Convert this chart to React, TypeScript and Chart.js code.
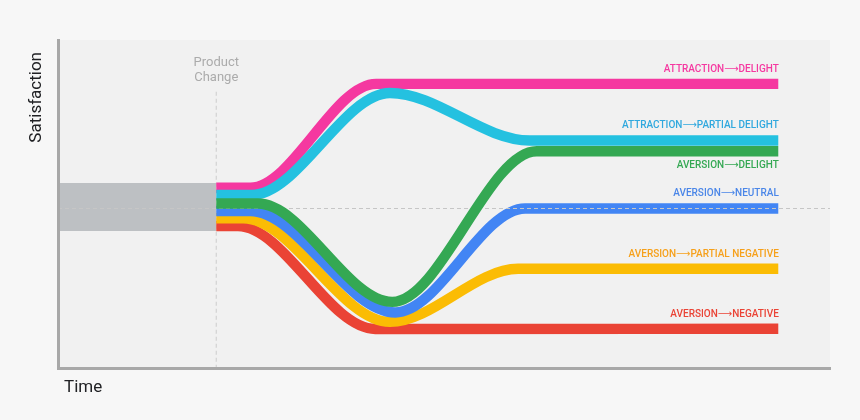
import React, { useEffect, useRef } from "react";
import { Chart, registerables } from "chart.js";

Chart.register(...registerables);

// ---- data (time 0–100, satisfaction; 0 = neutral) ----
const seriesNames = [
  "ATTRACTION⟶DELIGHT",
  "ATTRACTION⟶PARTIAL DELIGHT",
  "AVERSION⟶DELIGHT",
  "AVERSION⟶NEUTRAL",
  "AVERSION⟶PARTIAL NEGATIVE",
  "AVERSION⟶NEGATIVE",
];

const attractionDelightTime = [20.5, 24.9, 41.2, 93.3];
const attractionDelightSat = [13.0, 13.0, 77.9, 77.9];

const attractionPartialTime = [20.5, 25.1, 43.0, 61.1, 93.3];
const attractionPartialSat = [8.4, 8.4, 72.2, 42.5, 42.5];

const aversionDelightTime = [20.5, 25.9, 43.3, 62.0, 93.3];
const aversionDelightSat = [3.1, 3.1, -58.4, 35.8, 35.8];

const aversionNeutralTime = [20.5, 24.9, 43.7, 60.5, 93.3];
const aversionNeutralSat = [-1.6, -1.6, -65.0, 0, 0];

const aversionPartialNegTime = [20.5, 24.0, 43.0, 59.6, 93.3];
const aversionPartialNegSat = [-6.1, -6.1, -70.9, -37.7, -37.7];

const aversionNegativeTime = [20.5, 23.3, 41.1, 93.3];
const aversionNegativeSat = [-11.0, -11.0, -75.3, -75.2];

const productChangeTime = 20.5;
const productMarkerSat = [73, -99.7];
const neutralLevel = 0;
const baselineTime = [0, 20.5];
const baselineUpperSat = [15.9, 15.9];
const baselineLowerSat = [-14.1, -14.1];
const timeRange = [0, 100];
const satisfactionRange = [-99.7, 105.3];

const FONT = "Roboto, 'DejaVu Sans', 'Noto Sans', sans-serif";

const pts = (xs: number[], ys: number[]) => xs.map((x, i) => ({ x, y: ys[i] }));

function curve(name: string, xs: number[], ys: number[], color: string, labelColor: string, labelBelow = false) {
  return {
    label: name,
    data: pts(xs, ys),
    borderColor: color,
    backgroundColor: color,
    borderWidth: 10.4,
    borderCapStyle: "butt",
    borderJoinStyle: "round",
    cubicInterpolationMode: "monotone",
    pointRadius: 0,
    fill: false,
    endLabel: name,
    labelColor,
    labelBelow,
  };
}

const annotate = {
  id: "annotate",
  beforeDraw(chart: any) {
    const { ctx, chartArea: a } = chart;
    ctx.save();
    ctx.fillStyle = "#f1f1f1";
    ctx.fillRect(a.left, a.top, a.right - a.left, a.bottom - a.top);
    ctx.restore();
  },
  afterDraw(chart: any) {
    const { ctx, chartArea: a, scales } = chart;
    ctx.save();
    ctx.textBaseline = "middle";
    // end labels
    chart.data.datasets.forEach((ds: any, i: number) => {
      if (!ds.endLabel) return;
      const meta = chart.getDatasetMeta(i);
      const p = meta.data[meta.data.length - 1];
      ctx.font = `500 10px ${FONT}`;
      ctx.fillStyle = ds.labelColor;
      ctx.textAlign = "right";
      ctx.fillText(ds.endLabel, p.x + 0.5, p.y + (ds.labelBelow ? 14.5 : -14.5));
    });
    // product change label
    const px = scales.x.getPixelForValue(productChangeTime);
    const py = scales.y.getPixelForValue(productMarkerSat[0]);
    ctx.font = `400 13px ${FONT}`;
    ctx.fillStyle = "#ababab";
    ctx.textAlign = "center";
    ctx.fillText("Product", px, py - 29.3);
    ctx.fillText("Change", px, py - 13.7);
    // axis titles
    ctx.fillStyle = "#202124";
    ctx.font = `400 17px ${FONT}`;
    ctx.textAlign = "left";
    ctx.fillText("Time", a.left + 6, a.bottom + 20);
    ctx.translate(a.left - 21, a.top + 12);
    ctx.rotate(-Math.PI / 2);
    ctx.textAlign = "right";
    ctx.fillText("Satisfaction", 0, 0);
    ctx.restore();
  },
};

export default function App() {
  const ref = useRef<HTMLCanvasElement>(null);
  useEffect(() => {
    const datasets: any[] = [
      curve(seriesNames[2], aversionDelightTime, aversionDelightSat, "#34a853", "#34a853", true),
      {
        label: "neutral",
        data: pts([timeRange[0], timeRange[1]], [neutralLevel, neutralLevel]),
        borderColor: "#c6c6c6",
        borderWidth: 1.2,
        borderDash: [4, 3],
        pointRadius: 0,
        tension: 0,
        fill: false,
      },
      curve(seriesNames[3], aversionNeutralTime, aversionNeutralSat, "#4285f4", "#4a86e8"),
      curve(seriesNames[4], aversionPartialNegTime, aversionPartialNegSat, "#fbbc04", "#f6a01a"),
      curve(seriesNames[5], aversionNegativeTime, aversionNegativeSat, "#ea4335", "#ea4335"),
      curve(seriesNames[1], attractionPartialTime, attractionPartialSat, "#24c1e0", "#2fa8de"),
      curve(seriesNames[0], attractionDelightTime, attractionDelightSat, "#f538a0", "#f538a0"),
      {
        label: "baseline upper",
        data: pts(baselineTime, baselineUpperSat),
        borderWidth: 0,
        borderColor: "rgba(0,0,0,0)",
        backgroundColor: "#bdc0c3",
        pointRadius: 0,
        tension: 0,
        fill: "+1",
      },
      {
        label: "baseline lower",
        data: pts(baselineTime, baselineLowerSat),
        borderWidth: 0,
        borderColor: "rgba(0,0,0,0)",
        pointRadius: 0,
        tension: 0,
        fill: false,
      },
      {
        label: "product change",
        data: pts([productChangeTime, productChangeTime], productMarkerSat),
        borderColor: "#d2d2d2",
        borderWidth: 1.2,
        borderDash: [4, 3],
        pointRadius: 0,
        tension: 0,
        fill: false,
      },
    ];
    const chart = new Chart(ref.current as HTMLCanvasElement, {
      type: "line",
      data: { datasets },
      options: {
        responsive: true,
        maintainAspectRatio: false,
        animation: false,
        layout: { padding: { left: 58, right: 30, top: 40, bottom: 52 } },
        plugins: {
          legend: { display: false },
          tooltip: { enabled: false },
          title: { display: false },
        },
        scales: {
          x: {
            type: "linear",
            min: timeRange[0],
            max: timeRange[1],
            ticks: { display: false },
            grid: { display: false, drawTicks: false },
            border: { display: true, color: "#a8a8a8", width: 3, z: 1 },
          },
          y: {
            type: "linear",
            min: satisfactionRange[0],
            max: satisfactionRange[1],
            ticks: { display: false },
            grid: { display: false, drawTicks: false },
            border: { display: true, color: "#a8a8a8", width: 3, z: 1 },
          },
        },
      } as any,
      plugins: [annotate],
    } as any);
    return () => chart.destroy();
  }, []);
  return (
    <div
      style={{
        position: "fixed",
        left: 0,
        top: 0,
        width: 860,
        height: 420,
        background: "#f7f7f7",
      }}
    >
      <canvas ref={ref} />
    </div>
  );
}
